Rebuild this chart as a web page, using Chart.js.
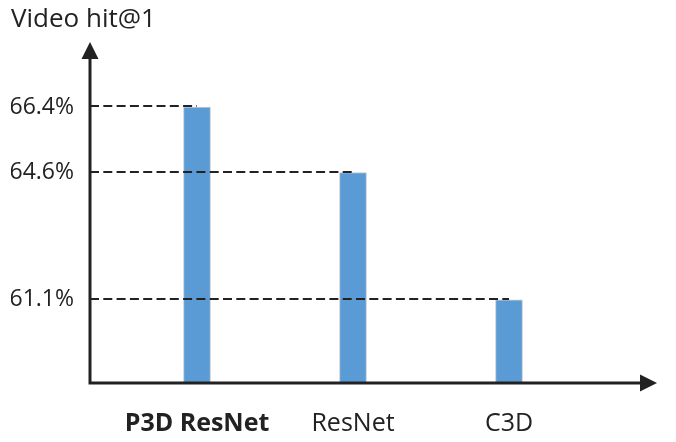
<!DOCTYPE html>
<html>
<head>
<meta charset="utf-8">
<script src="https://cdn.jsdelivr.net/npm/chart.js@4"></script>
<style>
  html, body { margin: 0; padding: 0; background: #fff; }
  #wrap { width: 676px; height: 442px; }
</style>
</head>
<body>
<div id="wrap"><canvas id="chart"></canvas></div>
<script>
// Chart data
const categories = ['P3D ResNet', 'ResNet', 'C3D'];
const hitValues = [66.4, 64.6, 61.1];
const tickValues = [61.1, 64.6, 66.4];

const FONT = "'Open Sans', sans-serif";
const INK = '#222';

// Draws the arrowed axes and the dashed guide lines to each bar
const axesPlugin = {
  id: 'axesPlugin',
  afterDatasetsDraw(chart) {
    const ctx = chart.ctx;
    const area = chart.chartArea;
    const axisX = area.left - 29;
    const axisY = area.bottom;
    const tipX = 657;
    const tipY = area.top;

    ctx.save();
    // dashed lines from y axis to bar centres
    const meta = chart.getDatasetMeta(0);
    ctx.strokeStyle = INK;
    ctx.lineWidth = 2;
    ctx.setLineDash([9, 4.3]);
    meta.data.forEach(bar => {
      ctx.beginPath();
      ctx.moveTo(axisX, Math.round(bar.y) - 1);
      ctx.lineTo(bar.x, Math.round(bar.y) - 1);
      ctx.stroke();
    });
    ctx.setLineDash([]);

    // axes
    ctx.lineWidth = 3;
    ctx.beginPath();
    ctx.moveTo(axisX, axisY);
    ctx.lineTo(axisX, tipY + 14);
    ctx.moveTo(axisX - 1.5, axisY);
    ctx.lineTo(tipX - 14, axisY);
    ctx.stroke();

    ctx.fillStyle = INK;
    ctx.beginPath();
    ctx.moveTo(axisX, tipY);
    ctx.lineTo(axisX - 8.5, tipY + 17);
    ctx.lineTo(axisX + 8.5, tipY + 17);
    ctx.closePath();
    ctx.fill();

    ctx.beginPath();
    ctx.moveTo(tipX, axisY);
    ctx.lineTo(tipX - 17, axisY - 8.5);
    ctx.lineTo(tipX - 17, axisY + 8.5);
    ctx.closePath();
    ctx.fill();
    ctx.restore();
  }
};

// no extra room for labels hanging past the axis ends
function noEdgePadding(axis) {
  axis.paddingTop = 0;
  axis.paddingBottom = 0;
  axis.paddingLeft = 0;
  axis.paddingRight = 0;
}

new Chart(document.getElementById('chart'), {
  type: 'bar',
  data: {
    labels: categories,
    datasets: [{
      data: hitValues,
      backgroundColor: '#5b9bd5',
      borderColor: 'rgba(150,160,170,0.55)',
      borderWidth: 1,
      barThickness: 27
    }]
  },
  options: {
    responsive: true,
    maintainAspectRatio: false,
    animation: false,
    layout: { padding: { left: 11, right: 89, top: 0, bottom: 6 } },
    plugins: {
      legend: { display: false },
      tooltip: { enabled: false },
      title: {
        display: true,
        text: 'Video hit@1',
        align: 'start',
        color: INK,
        font: { family: FONT, size: 26, weight: 'normal' },
        padding: { top: 3.9, bottom: 6.9 }
      }
    },
    scales: {
      x: {
        grid: { display: false, drawTicks: false },
        border: { display: false },
        ticks: {
          color: INK,
          padding: 25.7,
          font: ctx => ({ family: FONT, size: 25, weight: ctx.index === 0 ? 'bold' : 'normal' })
        },
        afterFit: axis => { noEdgePadding(axis); axis.height = 53; }
      },
      y: {
        min: 58.81,
        max: 68.19,
        grid: { display: false, drawTicks: false },
        border: { display: false },
        afterBuildTicks: axis => { axis.ticks = tickValues.map(v => ({ value: v })); },
        ticks: {
          color: INK,
          padding: 45,
          font: { family: FONT, size: 23 },
          callback: v => v.toFixed(1) + '%'
        },
        afterFit: axis => { noEdgePadding(axis); axis.width = 108; }
      }
    }
  },
  plugins: [axesPlugin]
});
</script>
</body>
</html>
